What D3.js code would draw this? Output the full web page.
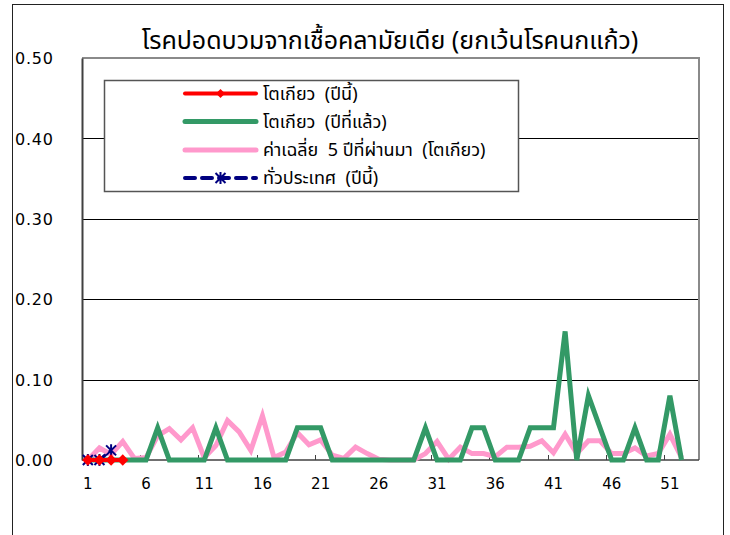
<!DOCTYPE html>
<html>
<head>
<meta charset="utf-8">
<script src="https://cdn.jsdelivr.net/npm/d3@7/dist/d3.min.js"></script>
<style>
  html, body { margin: 0; padding: 0; background: #fff; }
  svg { display: block; }
  .thai { font-family: "Noto Sans Thai", "Noto Sans Thai UI", "Leelawadee UI", Tahoma, "Noto Sans", "DejaVu Sans", sans-serif; }
  .num { font-family: "DejaVu Sans", "Noto Sans", sans-serif; }
</style>
</head>
<body>
<svg id="chart" width="730" height="535"></svg>
<script>
// ---------------- DATA ----------------
const weeks = d3.range(1, 54); // categories: week 1 .. 53
const xTickLabels = ["1", "6", "11", "16", "21", "26", "31", "36", "41", "46", "51"];
const yTickValues = [0, 0.1, 0.2, 0.3, 0.4, 0.5];

const titleText = "โรคปอดบวมจากเชื้อคลามัยเดีย (ยกเว้นโรคนกแก้ว)";
const seriesNames = ["โตเกียว  (ปีนี้)", "โตเกียว  (ปีที่แล้ว)", "ค่าเฉลี่ย  5 ปีที่ผ่านมา  (โตเกียว)", "ทั่วประเทศ  (ปีนี้)"];

// Tokyo, this year (weeks 1-4)
const tokyoThisYear = [0, 0, 0, 0];
// Tokyo, last year (weeks 1-52)
const tokyoLastYear = [0, 0, 0, 0, 0, 0, 0.04, 0, 0, 0, 0, 0.04, 0, 0, 0, 0, 0, 0,
  0.04, 0.04, 0.04, 0, 0, 0, 0, 0, 0, 0, 0, 0.04, 0, 0, 0, 0.04, 0.04, 0, 0, 0,
  0.04, 0.04, 0.04, 0.16, 0, 0.08, 0.04, 0, 0, 0.04, 0, 0, 0.08, 0];
// Average of past 5 years, Tokyo (weeks 1-52)
const avg5Years = [0, 0.015, 0.007, 0.023, 0.002, 0.003, 0.03, 0.039, 0.025, 0.04,
  0.003, 0.018, 0.049, 0.035, 0.012, 0.055, 0.003, 0.01, 0.034, 0.019, 0.025, 0.006,
  0.002, 0.016, 0.008, 0.001, 0, 0, 0, 0.008, 0.023, 0.001, 0.016, 0.008, 0.008,
  0.004, 0.016, 0.016, 0.017, 0.024, 0.009, 0.032, 0.008, 0.024, 0.024, 0.008,
  0.008, 0.015, 0.005, 0.008, 0.032, 0.003];
// Nationwide, this year (weeks 1-3)
const nationwideThisYear = [0, 0, 0.012];

// ---------------- LAYOUT ----------------
const svg = d3.select("#chart");
const plot = { left: 82, right: 699, top: 58, bottom: 460 };

const x = d3.scaleBand().domain(weeks).range([plot.left, plot.right]).paddingInner(0).paddingOuter(0);
const xc = w => x(w) + x.bandwidth() / 2;
const y = d3.scaleLinear().domain([0, 0.5]).range([plot.bottom, plot.top]);

// outer frame
svg.append("rect").attr("x", 0).attr("y", 0).attr("width", 730).attr("height", 535).attr("fill", "#fff");
svg.append("rect").attr("x", 12.5).attr("y", 4.5).attr("width", 711).attr("height", 560)
  .attr("fill", "none").attr("stroke", "#222").attr("stroke-width", 1);

// title
svg.append("text").attr("class", "thai").attr("x", 390).attr("y", 49)
  .attr("text-anchor", "middle").attr("font-size", 25).attr("fill", "#000").text(titleText);

// gridlines
svg.append("g").selectAll("line").data(yTickValues.filter(v => v > 0 && v < 0.5)).join("line")
  .attr("x1", plot.left).attr("x2", plot.right)
  .attr("y1", d => Math.round(y(d)) + 0.5).attr("y2", d => Math.round(y(d)) + 0.5)
  .attr("stroke", "#000").attr("stroke-width", 1);

// plot border top & right (gray)
svg.append("path")
  .attr("d", `M${plot.left},${plot.top} H${plot.right} V${plot.bottom}`)
  .attr("fill", "none").attr("stroke", "#8a8a8a").attr("stroke-width", 2);

// y axis
const yAxis = d3.axisLeft(y).tickValues(yTickValues).tickFormat(d3.format(".2f")).tickSize(0).tickPadding(0);
const gy = svg.append("g").attr("transform", `translate(${plot.left},0)`).call(yAxis);
gy.select(".domain").attr("stroke", "#404040").attr("stroke-width", 2);
gy.selectAll("text").attr("class", "num").attr("font-size", 16).attr("fill", "#000")
  .attr("text-anchor", "start").attr("x", 15 - plot.left).attr("dy", "0.35em").attr("letter-spacing", "0.8px");

// x axis
const labelWeeks = xTickLabels.map(Number);
const gx = svg.append("g").attr("transform", `translate(0,${plot.bottom})`);
gx.append("line").attr("x1", plot.left).attr("x2", plot.right).attr("y1", 0).attr("y2", 0)
  .attr("stroke", "#404040").attr("stroke-width", 1.5);
gx.selectAll("line.tick").data(labelWeeks.filter(w => w > 1)).join("line").attr("class", "tick")
  .attr("x1", d => Math.round(x(d)) + 0.5).attr("x2", d => Math.round(x(d)) + 0.5)
  .attr("y1", 0).attr("y2", -5).attr("stroke", "#404040").attr("stroke-width", 1);
gx.selectAll("text").data(xTickLabels).join("text").attr("class", "num")
  .attr("x", d => xc(+d)).attr("y", 29).attr("text-anchor", "middle")
  .attr("font-size", 15).attr("fill", "#000").text(d => d);

// lines
const lineGen = d3.line().x((d, i) => xc(weeks[i])).y(d => y(d));

svg.append("path").datum(avg5Years).attr("d", lineGen)
  .attr("fill", "none").attr("stroke", "#ff99cc").attr("stroke-width", 5).attr("stroke-linejoin", "miter");
svg.append("path").datum(tokyoLastYear).attr("d", lineGen)
  .attr("fill", "none").attr("stroke", "#339966").attr("stroke-width", 5).attr("stroke-linejoin", "miter");
svg.append("path").datum(nationwideThisYear).attr("d", lineGen)
  .attr("fill", "none").attr("stroke", "#000080").attr("stroke-width", 3).attr("stroke-dasharray", "8,4");

// markers
function star(g, cx, cy, r) {
  g.append("path").attr("d", `M${cx - r},${cy - r}L${cx + r},${cy + r}M${cx - r},${cy + r}L${cx + r},${cy - r}M${cx},${cy - r - 1}L${cx},${cy + r + 1}`)
    .attr("stroke", "#000080").attr("stroke-width", 2).attr("fill", "none");
}
const starG = svg.append("g");
nationwideThisYear.forEach((v, i) => star(starG, xc(weeks[i]), y(v), 5));

svg.append("path").datum(tokyoThisYear).attr("d", lineGen)
  .attr("fill", "none").attr("stroke", "#ff0000").attr("stroke-width", 4);
svg.append("g").selectAll("path").data(tokyoThisYear).join("path")
  .attr("d", d3.symbol().type(d3.symbolSquare).size(64))
  .attr("transform", (d, i) => `translate(${xc(weeks[i])},${y(d)}) rotate(45)`)
  .attr("fill", "#ff0000");

// legend
const lg = svg.append("g");
lg.append("rect").attr("x", 104.5).attr("y", 80.5).attr("width", 414).attr("height", 111)
  .attr("fill", "#fff").attr("stroke", "#555").attr("stroke-width", 1.5);
const rowsY = [93.5, 121.5, 150, 178];
const lx1 = 185, lx2 = 256, lmid = (185 + 256) / 2;
// row 0: red
lg.append("line").attr("x1", lx1).attr("x2", lx2).attr("y1", rowsY[0]).attr("y2", rowsY[0])
  .attr("stroke", "#ff0000").attr("stroke-width", 4).attr("stroke-linecap", "round");
lg.append("path").attr("d", d3.symbol().type(d3.symbolSquare).size(40))
  .attr("transform", `translate(${lmid},${rowsY[0]}) rotate(45)`).attr("fill", "#ff0000");
// row 1: green
lg.append("line").attr("x1", lx1).attr("x2", lx2).attr("y1", rowsY[1]).attr("y2", rowsY[1])
  .attr("stroke", "#339966").attr("stroke-width", 5).attr("stroke-linecap", "round");
// row 2: pink
lg.append("line").attr("x1", lx1).attr("x2", lx2).attr("y1", rowsY[2]).attr("y2", rowsY[2])
  .attr("stroke", "#ff99cc").attr("stroke-width", 5).attr("stroke-linecap", "round");
// row 3: blue dashed
lg.append("line").attr("x1", lx1).attr("x2", lx2).attr("y1", rowsY[3]).attr("y2", rowsY[3])
  .attr("stroke", "#000080").attr("stroke-width", 4).attr("stroke-dasharray", "10,7").attr("stroke-linecap", "round");
star(lg, lmid, rowsY[3], 5);

lg.selectAll("text").data(seriesNames).join("text").attr("class", "thai")
  .attr("x", 263).attr("y", (d, i) => rowsY[i]).attr("dy", "0.35em")
  .attr("font-size", 18).attr("fill", "#000").attr("xml:space", "preserve")
  .style("white-space", "pre").text(d => d);
</script>
</body>
</html>
